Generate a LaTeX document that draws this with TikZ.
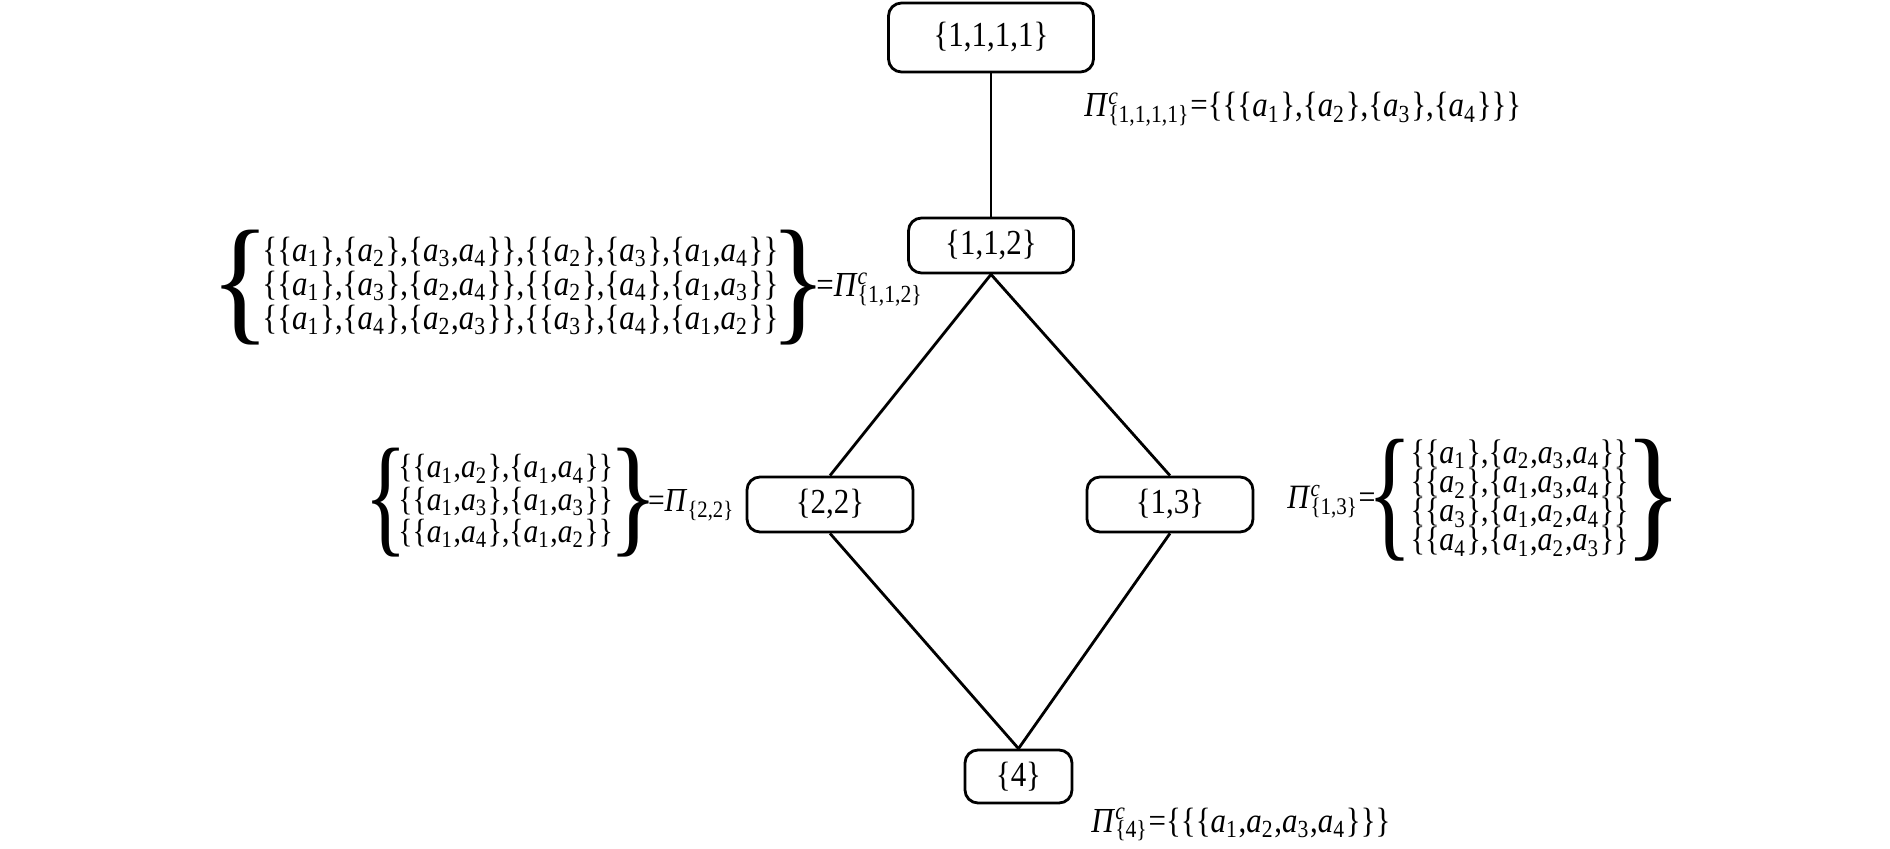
\documentclass[tikz,border=0pt]{standalone}
\usepackage{fontspec}
\setmainfont{Liberation Serif}[FakeStretch=0.88]
\usepackage{tikz}
\usetikzlibrary{positioning}
\newcommand{\av}[1]{\textit{a}\textsubscript{#1}}
\newcommand{\cpi}[1]{\textit{Π}\textsubscript{\{#1\}}}
\newcommand{\cpic}[1]{\textit{Π}\rlap{\textsuperscript{\textit{c}}}\textsubscript{\{#1\}}}
\newcommand{\lbr}[2]{$\vcenter{\hbox{\resizebox*{#1}{#2}{\{}}}$}
\newcommand{\rbr}[2]{$\vcenter{\hbox{\resizebox*{#1}{#2}{\}}}}$}

\begin{document}
\begin{tikzpicture}[thick,
    every node/.style={font=\fontsize{10}{9}\selectfont},
    main/.style = {draw, rounded corners=0.13cm, inner sep=0pt, minimum height=0.55cm, minimum width=1.66cm},
    lbl/.style = {inner sep=0pt}]
      \useasboundingbox (0,0) rectangle (18.9,8.48);
      \node[main, minimum width=2.05cm, minimum height=0.69cm](p1111) at (9.91,8.105){\{1,1,1,1\}};
      \node[main, minimum width=1.65cm, node distance=2.08cm](p112)[below of=p1111]{\{1,1,2\}};
      \node[main](p22) at (8.30,3.435){\{2,2\}};
      \node[main](p13) at (11.70,3.435){\{1,3\}};
      \node[main, minimum width=1.07cm, minimum height=0.53cm](p4) at (10.185,0.715){\{4\}};

      \path
      (p1111) edge (p112)
      (p112.south) edge (p22.north)
      (p112.south) edge (p13.north)
      (p22.south) edge (p4.north)
      (p13.south) edge (p4.north)
      ;

      % the classes beside each node
      \node[lbl, anchor=base west](l1111) at (10.83,7.31)
        {\cpic{1,1,1,1}=\{\{\{\av1\},\{\av2\},\{\av3\},\{\av4\}\}\}};
      \node[lbl, anchor=west](l112) at (2.09,5.60)
        {\lbr{0.6cm}{1.15cm}\begin{tabular}{@{\hspace{-0.08cm}}l@{\hspace{-0.08cm}}}
        \{\{\av1\},\{\av2\},\{\av3,\av4\}\},\{\{\av2\},\{\av3\},\{\av1,\av4\}\}\\
        \{\{\av1\},\{\av3\},\{\av2,\av4\}\},\{\{\av2\},\{\av4\},\{\av1,\av3\}\}\\
        \{\{\av1\},\{\av4\},\{\av2,\av3\}\},\{\{\av3\},\{\av4\},\{\av1,\av2\}\}
        \end{tabular}\rbr{0.56cm}{1.15cm}\hspace{-0.1cm}=\cpic{1,1,2}};
      \node[lbl, anchor=west, font=\fontsize{9.55}{8.5}\selectfont](l22) at (3.63,3.45)
        {\lbr{0.43cm}{1.09cm}\begin{tabular}{@{\hspace{-0.09cm}}l@{\hspace{-0.05cm}}}
        \{\{\av1,\av2\},\{\av1,\av4\}\}\\
        \{\{\av1,\av3\},\{\av1,\av3\}\}\\
        \{\{\av1,\av4\},\{\av1,\av2\}\}
        \end{tabular}\rbr{0.5cm}{1.09cm}\hspace{-0.1cm}=\cpi{2,2}};
      \node[lbl, anchor=west, font=\fontsize{9.7}{8.5}\selectfont](l13) at (12.86,3.48)
        {\cpic{1,3}=\hspace{-0.08cm}\lbr{0.45cm}{1.22cm}\begin{tabular}{@{\hspace{-0.02cm}}l@{\hspace{-0.04cm}}}
        \{\{\av1\},\{\av2,\av3,\av4\}\}\\[-1pt]
        \{\{\av2\},\{\av1,\av3,\av4\}\}\\[-1pt]
        \{\{\av3\},\{\av1,\av2,\av4\}\}\\[-1pt]
        \{\{\av4\},\{\av1,\av2,\av3\}\}
        \end{tabular}\rbr{0.58cm}{1.22cm}};
      \node[lbl, anchor=base west](l4) at (10.90,0.16)
        {\cpic{4}=\{\{\{\av1,\av2,\av3,\av4\}\}\}};
\end{tikzpicture}
\end{document}
